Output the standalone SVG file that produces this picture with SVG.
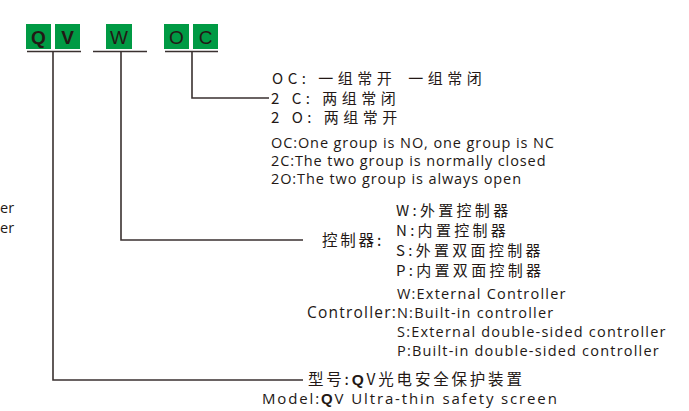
<svg xmlns="http://www.w3.org/2000/svg" width="689" height="411" viewBox="0 0 689 411">
<style>
.box{fill:#009a44}
.bl{font-family:"Liberation Sans",Arial,sans-serif;font-size:19px;fill:#231815;text-anchor:middle}
.ln{fill:none;stroke:#3a3130;stroke-width:1.6}
.cn{font-family:"Noto Sans CJK SC","Noto Sans",sans-serif;font-size:15px;fill:#231815;letter-spacing:4.5px}
.cn2{font-family:"Noto Sans CJK SC","Noto Sans",sans-serif;font-size:15.5px;fill:#231815;letter-spacing:2.8px}
.cn3{font-family:"Noto Sans CJK SC","Noto Sans",sans-serif;font-size:15px;fill:#231815;letter-spacing:3.3px}
.en{font-family:"Open Sans","Noto Sans",sans-serif;font-size:14.5px;fill:#231815;letter-spacing:0.9px}
.en2{font-family:"Open Sans","Noto Sans",sans-serif;font-size:14.5px;fill:#231815;letter-spacing:1.2px}
</style>
<rect width="689" height="411" fill="#fff"/>
<g id="code-Q"><rect class="box" x="26" y="24" width="25" height="25"/><text class="bl" x="38.5" y="43.5" font-weight="bold">Q</text></g>
<g id="code-V"><rect class="box" x="55" y="24" width="25" height="25"/><text class="bl" x="67.5" y="43.5" font-weight="bold">V</text></g>
<g id="code-W"><rect class="box" x="106" y="24" width="26" height="25"/><text class="bl" x="119" y="43.5">W</text></g>
<g id="code-O"><rect class="box" x="164" y="24" width="25" height="25"/><text class="bl" x="176.5" y="43.5">O</text></g>
<g id="code-C"><rect class="box" x="193" y="24" width="25" height="25"/><text class="bl" x="205.5" y="43.5">C</text></g>
<g id="connectors">
<path class="ln" d="M27 51.5H81M93 51.5H147M165 51.5H218"/>
<path class="ln" d="M192 51.5V98H269"/>
<path class="ln" d="M121 51.5V240H303"/>
<path class="ln" d="M53 51.5V380H303"/>
</g>
<g id="contacts">
<text class="cn" x="272" y="84">OC: 一组常开<tspan dx="12">一组常闭</tspan></text>
<text class="cn" x="271" y="104">2 C: 两组常闭</text>
<text class="cn" x="271" y="123">2 O: 两组常开</text>
<text class="en" x="271" y="148">OC:One group is NO, one group is NC</text>
<text class="en" x="271" y="166">2C:The two group is normally closed</text>
<text class="en" x="271" y="184">2O:The two group is always open</text>
</g>
<g id="controller">
<text class="cn2" x="322" y="246">控制器:</text>
<text class="cn3" x="396" y="216">W:外置控制器</text>
<text class="cn3" x="396" y="236">N:内置控制器</text>
<text class="cn3" x="396" y="256">S:外置双面控制器</text>
<text class="cn3" x="396" y="276">P:内置双面控制器</text>
<text class="en2" x="397" y="318" style="text-anchor:end;font-size:15.5px">Controller:</text>
<text class="en2" x="397" y="299">W:External Controller</text>
<text class="en2" x="397" y="318">N:Built-in controller</text>
<text class="en2" x="397" y="337">S:External double-sided controller</text>
<text class="en2" x="397" y="356">P:Built-in double-sided controller</text>
</g>
<g id="model">
<text class="cn2" x="308" y="385">型号:<tspan font-family="Liberation Sans,sans-serif" font-weight="bold">Q</tspan>V光电安全保护装置</text>
<text class="en" x="262" y="404" style="font-size:15px;letter-spacing:1.85px">Model:<tspan font-family="Liberation Sans,sans-serif" font-weight="bold">Q</tspan>V<tspan dx="6">Ultra-thin safety screen</tspan></text>
</g>
<g id="cut-text">
<text class="en" x="0" y="213" style="letter-spacing:0">er</text>
<text class="en" x="0" y="233" style="letter-spacing:0">er</text>
</g>
</svg>
